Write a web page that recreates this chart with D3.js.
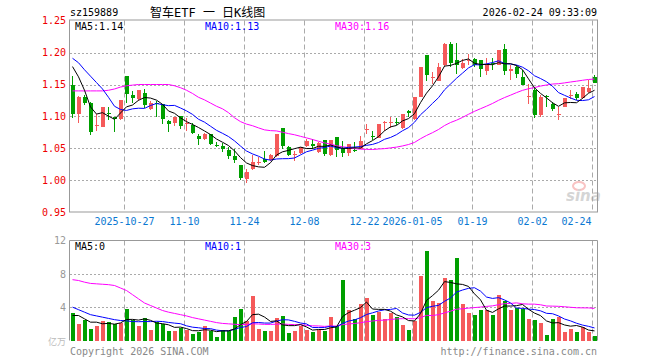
<!DOCTYPE html>
<html>
<head>
<meta charset="utf-8">
<script src="https://cdn.jsdelivr.net/npm/d3@7"></script>
<style>
    body { margin: 0; background: #fff; }
    text { font-family: 'DejaVu Sans Mono', monospace; font-size: 10px; }
    .grid-h { stroke: #aaa; stroke-dasharray: 2,2; }
    .grid-v { stroke: #aaa; stroke-dasharray: 5,3; }
    .frame { fill: none; stroke: #999; }
</style>
</head>
<body>
<div id="chart"></div>
<script>

var dates = [
    '2025-10-14','2025-10-15','2025-10-16','2025-10-17','2025-10-20','2025-10-21','2025-10-22','2025-10-23','2025-10-24',
    '2025-10-27','2025-10-28','2025-10-29','2025-10-30','2025-10-31',
    '2025-11-03','2025-11-04','2025-11-05','2025-11-06','2025-11-07','2025-11-10','2025-11-11','2025-11-12','2025-11-13','2025-11-14',
    '2025-11-17','2025-11-18','2025-11-19','2025-11-20','2025-11-21','2025-11-24','2025-11-25','2025-11-26','2025-11-27','2025-11-28',
    '2025-12-01','2025-12-02','2025-12-03','2025-12-04','2025-12-05','2025-12-08','2025-12-09','2025-12-10','2025-12-11','2025-12-12',
    '2025-12-15','2025-12-16','2025-12-17','2025-12-18','2025-12-19','2025-12-22','2025-12-23','2025-12-24','2025-12-25','2025-12-26',
    '2025-12-29','2025-12-30','2025-12-31',
    '2026-01-05','2026-01-06','2026-01-07','2026-01-08','2026-01-09','2026-01-12','2026-01-13','2026-01-14','2026-01-15','2026-01-16',
    '2026-01-19','2026-01-20','2026-01-21','2026-01-22','2026-01-23','2026-01-26','2026-01-27','2026-01-28','2026-01-29','2026-01-30',
    '2026-02-02','2026-02-03','2026-02-04','2026-02-05','2026-02-06','2026-02-09','2026-02-10','2026-02-11','2026-02-12','2026-02-13',
    '2026-02-24'
];

var open = [
    1.150, 1.104, 1.130, 1.121, 1.086, 1.084, 1.105, 1.100, 1.096, 1.163,
    1.133, 1.127, 1.136, 1.112, 1.121, 1.120, 1.093, 1.090, 1.101, 1.088,
    1.087, 1.069, 1.0645, 1.072, 1.056, 1.054, 1.048, 1.038, 1.024, 1.0025,
    1.018, 1.027, 1.0333, 1.0317, 1.039, 1.082, 1.053, 1.041, 1.043, 1.0536,
    1.0567, 1.0444, 1.063, 1.0395, 1.068, 1.0505, 1.0427, 1.047, 1.049, 1.079,
    1.070, 1.067, 1.090, 1.091, 1.092, 1.082, 1.108, 1.096, 1.131, 1.196,
    1.160, 1.155, 1.180, 1.2135, 1.188, 1.176, 1.187, 1.190, 1.188, 1.1713,
    1.184, 1.1806, 1.205, 1.171, 1.1766, 1.161, 1.130, 1.141, 1.1016, 1.1315,
    1.119, 1.1036, 1.1156, 1.133, 1.135, 1.1286, 1.139, 1.161
];
var high = [
    1.163, 1.132, 1.133, 1.122, 1.104, 1.115, 1.115, 1.100, 1.126, 1.164,
    1.1395, 1.141, 1.143, 1.124, 1.124, 1.120, 1.095, 1.100, 1.101, 1.097,
    1.090, 1.072, 1.074, 1.073, 1.060, 1.058, 1.0516, 1.050, 1.024, 1.018,
    1.0406, 1.037, 1.0458, 1.041, 1.073, 1.082, 1.054, 1.0458, 1.052, 1.065,
    1.065, 1.060, 1.063, 1.064, 1.068, 1.061, 1.0568, 1.060, 1.0703, 1.088,
    1.0776, 1.088, 1.0922, 1.100, 1.0974, 1.104, 1.1104, 1.131, 1.178, 1.196,
    1.1703, 1.1833, 1.215, 1.216, 1.215, 1.190, 1.197, 1.192, 1.188, 1.192,
    1.192, 1.204, 1.213, 1.180, 1.1806, 1.173, 1.151, 1.144, 1.134, 1.133,
    1.1234, 1.1156, 1.129, 1.141, 1.1384, 1.146, 1.157, 1.1645
];
var low = [
    1.098, 1.090, 1.118, 1.071, 1.078, 1.083, 1.094, 1.076, 1.094, 1.121,
    1.121, 1.125, 1.114, 1.110, 1.100, 1.089, 1.076, 1.085, 1.080, 1.077,
    1.073, 1.056, 1.063, 1.055, 1.0525, 1.045, 1.033, 1.028, 1.0015, 0.996,
    1.0166, 1.025, 1.0275, 1.030, 1.037, 1.049, 1.039, 1.0306, 1.041, 1.052,
    1.050, 1.0425, 1.039, 1.038, 1.0375, 1.0375, 1.0385, 1.0443, 1.049, 1.0724,
    1.0635, 1.066, 1.0776, 1.0828, 1.086, 1.081, 1.099, 1.095, 1.130, 1.156,
    1.151, 1.1547, 1.178, 1.178, 1.167, 1.174, 1.180, 1.178, 1.1625, 1.165,
    1.173, 1.180, 1.1645, 1.157, 1.1598, 1.1485, 1.119, 1.097, 1.100, 1.1145,
    1.109, 1.0947, 1.115, 1.128, 1.1255, 1.128, 1.1375, 1.1516
];
var close = [
    1.104, 1.131, 1.121, 1.076, 1.087, 1.115, 1.104, 1.096, 1.1255, 1.135,
    1.129, 1.141, 1.118, 1.121, 1.119, 1.096, 1.089, 1.100, 1.085, 1.090,
    1.074, 1.065, 1.073, 1.057, 1.055, 1.049, 1.039, 1.032, 1.004, 1.013,
    1.0286, 1.029, 1.0286, 1.040, 1.073, 1.0536, 1.040, 1.042, 1.052, 1.062,
    1.0536, 1.058, 1.041, 1.063, 1.047, 1.0427, 1.0568, 1.046, 1.061, 1.080,
    1.068, 1.088, 1.091, 1.092, 1.091, 1.1036, 1.106, 1.130, 1.1776, 1.165,
    1.161, 1.1766, 1.2135, 1.183, 1.181, 1.184, 1.188, 1.180, 1.174, 1.1807,
    1.182, 1.204, 1.171, 1.175, 1.166, 1.150, 1.132, 1.1016, 1.131, 1.131,
    1.112, 1.104, 1.1286, 1.134, 1.129, 1.146, 1.144, 1.152
];

// volume in 万
var volume = [
    3.32, 2.0, 2.48, 1.40, 1.80, 2.36, 2.24, 2.0, 2.16, 3.84,
    2.44, 1.8, 2.72, 1.32, 2.2, 2.04, 1.16, 1.16, 1.48, 1.32,
    0.8, 1.08, 1.8, 1.2, 0.44, 1.24, 1.12, 2.88, 3.8, 2.36,
    5.36, 1.4, 1.16, 1.16, 2.72, 2.96, 0.92, 1.16, 1.8, 1.28,
    1.08, 1.28, 1.16, 2.84, 1.76, 7.28, 3.68, 2.6, 4.4, 5.12,
    3.08, 3.48, 2.6, 3.32, 2.88, 1.88, 1.28, 2.36, 7.76, 10.76,
    4.76, 4.52, 7.52, 7.28, 9.92, 4.4, 3.32, 3.08, 3.68, 3.68,
    3.08, 5.48, 4.76, 3.68, 3.9, 3.8, 2.6, 2.48, 2.16, 0.68,
    2.6, 2.8, 1.08, 1.44, 1.08, 1.6, 1.08, 0.56
];

// moving average values before enough history is on the chart
var ma5Head = [1.178, 1.162, 1.141, 1.115];
var ma10Head = [1.191, 1.184, 1.173, 1.163, 1.153, 1.143, 1.130, 1.116, 1.111];
var ma30Head = [1.140, 1.140, 1.140, 1.140, 1.140, 1.140, 1.141, 1.143, 1.146, 1.148,
    1.149, 1.150, 1.150, 1.150, 1.150, 1.150, 1.150, 1.148, 1.145, 1.141,
    1.136, 1.130, 1.126, 1.121, 1.116, 1.112, 1.106, 1.098, 1.092];
var volMa5Head = [3.0, 3.0, 2.6, 2.2];
var volMa10Head = [4.0, 3.7, 3.4, 3.1, 2.95, 2.8, 2.65, 2.5, 2.4];
var volMa30Head = [7.3, 7.2, 7.0, 6.85, 6.8, 6.75, 6.7, 6.6, 6.3, 6.0,
    5.5, 5.0, 4.5, 4.2, 3.9, 3.6, 3.4, 3.25, 3.1, 2.95,
    2.75, 2.6, 2.45, 2.3, 2.15, 2.05, 2.0, 1.95, 1.9];

var priceTicks = [0.95, 1.00, 1.05, 1.10, 1.15, 1.20, 1.25];
var volTicks = [4, 8, 12];
var tickDates = ['2025-10-27','2025-11-10','2025-11-24','2025-12-08','2025-12-22','2026-01-05','2026-01-19','2026-02-02','2026-02-24'];
var tickLabels = ['2025-10-27','11-10','11-24','12-08','12-22','2026-01-05','01-19','02-02','02-24'];

var width = 660, height = 360,
    left = 70, right = 598,
    priceTop = 20.5, priceBottom = 212.5,
    volTop = 240.5, volBottom = 340.5,
    up = '#f55a5a', down = '#009f00';

function movingAvg(values, n, head) {
    return values.map(function(v, i) {
        if (i < n - 1) return head[i];
        return d3.mean(values.slice(i - n + 1, i + 1));
    });
}

var bars = dates.map(function(d, i) {
    return {i: i, date: d, o: open[i], h: high[i], l: low[i], c: close[i], v: volume[i]};
});

var xScale = d3.scaleLinear()
    .domain([0, dates.length])
    .range([left, right]);

var yScale = d3.scaleLinear()
    .domain([0.95, 1.25])
    .range([priceBottom, priceTop]);

var vScale = d3.scaleLinear()
    .domain([0, 12])
    .range([volBottom, volTop]);

var svg = d3.select('#chart')
    .append('svg')
    .attr('width', width)
    .attr('height', height);

// header texts
svg.append('text').attr('x', 70).attr('y', 16).text('sz159889');
svg.append('text')
    .attr('x', 150).attr('y', 17)
    .style('font-size', '12px')
    .style('font-family', "'DejaVu Sans Mono','Noto Sans CJK SC'")
    .text('智车ETF 一 日K线图');
svg.append('text').attr('x', 597).attr('y', 16).attr('text-anchor', 'end').text('2026-02-24 09:33:09');

// watermark
var wm = svg.append('g').attr('transform', 'translate(566,190)').style('opacity', 0.35);
wm.append('ellipse').attr('cx', 13).attr('cy', -4).attr('rx', 6).attr('ry', 4).attr('fill', 'none').attr('stroke', '#e55').attr('stroke-width', 2);
wm.append('text').attr('x', 0).attr('y', 11)
    .style('font-family', "'DejaVu Sans'").style('font-size', '15px')
    .style('font-style', 'italic').style('font-weight', 'bold')
    .attr('fill', '#888').text('sina');

function drawGrid(g, top, bottom, yTicks, ys) {
    g.selectAll('.grid-h')
        .data(yTicks)
        .enter()
        .append('line')
        .classed('grid-h', true)
        .attr('x1', left).attr('x2', right)
        .attr('y1', function(d) { return Math.round(ys(d)) + 0.5; })
        .attr('y2', function(d) { return Math.round(ys(d)) + 0.5; });
    g.selectAll('.grid-v')
        .data(tickDates)
        .enter()
        .append('line')
        .classed('grid-v', true)
        .attr('x1', function(d) { return xScale(dates.indexOf(d)) + 0.5; })
        .attr('x2', function(d) { return xScale(dates.indexOf(d)) + 0.5; })
        .attr('y1', top).attr('y2', bottom);
}

// ---------- price panel ----------
var pg = svg.append('g');
drawGrid(pg, priceTop, priceBottom, [1.00, 1.05, 1.10, 1.15, 1.20], yScale);

pg.append('rect')
    .classed('frame', true)
    .attr('x', left - 0.5).attr('y', priceTop - 0.5)
    .attr('width', right - left).attr('height', priceBottom - priceTop);

var yAxis = pg.append('g')
    .attr('transform', 'translate(' + (left - 4) + ',0)')
    .call(d3.axisLeft(yScale).tickValues(priceTicks).tickSize(0).tickPadding(0).tickFormat(d3.format('.2f')));
yAxis.select('.domain').remove();
yAxis.selectAll('text').attr('fill', '#e00').style('font-size', '10px').style('font-family', "'DejaVu Sans Mono'");

var xAxis = pg.append('g')
    .attr('transform', 'translate(0,' + (priceBottom + 2) + ')')
    .call(d3.axisBottom(xScale)
        .tickValues(tickDates.map(function(d) { return dates.indexOf(d); }))
        .tickSize(0).tickPadding(3)
        .tickFormat(function(d, i) { return tickLabels[i]; }));
xAxis.select('.domain').remove();
xAxis.selectAll('text')
    .attr('fill', '#0a78d2')
    .style('font-size', '10px')
    .style('font-family', "'DejaVu Sans Mono'")
    .each(function(d) {
        var w = this.getComputedTextLength(), x = xScale(d);
        if (x + w / 2 > 591) d3.select(this).attr('x', 591 - w / 2 - x);
    });

var candles = pg.append('g').style('shape-rendering', 'crispEdges');
candles.selectAll('line')
    .data(bars)
    .enter()
    .append('line')
    .attr('x1', function(d) { return xScale(d.i) + 2.5; })
    .attr('x2', function(d) { return xScale(d.i) + 2.5; })
    .attr('y1', function(d) { return yScale(d.h); })
    .attr('y2', function(d) { return yScale(d.l); })
    .attr('stroke', function(d) { return d.c >= d.o ? up : down; });
candles.selectAll('rect')
    .data(bars)
    .enter()
    .append('rect')
    .attr('x', function(d) { return xScale(d.i) + 0.5; })
    .attr('width', 4.5)
    .attr('y', function(d) { return yScale(Math.max(d.o, d.c)); })
    .attr('height', function(d) { return Math.max(1, Math.abs(yScale(d.o) - yScale(d.c))); })
    .attr('fill', function(d) { return d.c >= d.o ? up : down; });

function drawMa(g, values, ys, color) {
    var line = d3.line()
        .x(function(d, i) { return xScale(i) + 2.5; })
        .y(function(d) { return ys(d); });
    g.append('path')
        .datum(values)
        .attr('d', line)
        .attr('fill', 'none')
        .attr('stroke', color)
        .attr('stroke-width', 1);
}

drawMa(pg, movingAvg(close, 30, ma30Head), yScale, '#f0f');
drawMa(pg, movingAvg(close, 10, ma10Head), yScale, '#00f');
drawMa(pg, movingAvg(close, 5, ma5Head), yScale, '#000');

pg.append('text').attr('x', 75).attr('y', 30).attr('fill', '#000').text('MA5:1.14');
pg.append('text').attr('x', 205).attr('y', 30).attr('fill', '#00f').text('MA10:1.13');
pg.append('text').attr('x', 335).attr('y', 30).attr('fill', '#f0f').text('MA30:1.16');

// ---------- volume panel ----------
var vg = svg.append('g');
drawGrid(vg, volTop, volBottom, [4, 8], vScale);

vg.append('path')
    .classed('frame', true)
    .attr('d', 'M' + (left - 0.5) + ',' + volBottom + 'V' + volTop + 'H' + (right - 0.5) + 'V' + volBottom);

var vAxis = vg.append('g')
    .attr('transform', 'translate(' + (left - 4) + ',0)')
    .call(d3.axisLeft(vScale).tickValues(volTicks).tickSize(0).tickPadding(0));
vAxis.select('.domain').remove();
vAxis.selectAll('text').attr('fill', '#999').style('font-size', '10px').style('font-family', "'DejaVu Sans Mono'");

vg.append('g')
    .style('shape-rendering', 'crispEdges')
    .selectAll('rect')
    .data(bars)
    .enter()
    .append('rect')
    .attr('x', function(d) { return xScale(d.i) + 0.5; })
    .attr('width', 4.5)
    .attr('y', function(d) { return vScale(d.v); })
    .attr('height', function(d) { return volBottom - vScale(d.v); })
    .attr('fill', function(d) { return d.c >= d.o ? up : down; });

drawMa(vg, movingAvg(volume, 30, volMa30Head), vScale, '#f0f');
drawMa(vg, movingAvg(volume, 10, volMa10Head), vScale, '#00f');
drawMa(vg, movingAvg(volume, 5, volMa5Head), vScale, '#000');

vg.append('text').attr('x', 75).attr('y', 250).attr('fill', '#000').text('MA5:0');
vg.append('text').attr('x', 205).attr('y', 250).attr('fill', '#00f').text('MA10:1');
vg.append('text').attr('x', 335).attr('y', 250).attr('fill', '#f0f').text('MA30:3');

svg.append('text').attr('x', 48).attr('y', 345).attr('fill', '#bbb')
    .style('font-size', '9px').style('font-family', "'Noto Sans CJK SC'").text('亿万');
svg.append('text').attr('x', 70).attr('y', 355).attr('fill', '#888').text('Copyright 2026 SINA.COM');
svg.append('text').attr('x', 597).attr('y', 355).attr('text-anchor', 'end').attr('fill', '#888').text('http://finance.sina.com.cn');

</script>
</body>
</html>
